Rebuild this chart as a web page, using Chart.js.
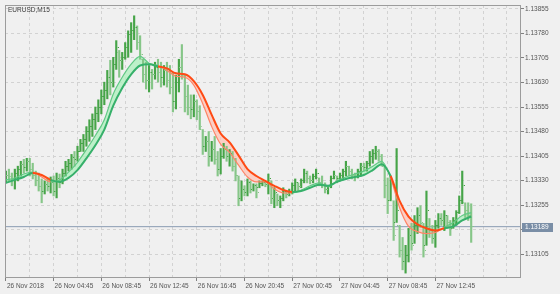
<!DOCTYPE html>
<html>
<head>
<meta charset="utf-8">
<script src="https://cdn.jsdelivr.net/npm/chart.js@4.4.1/dist/chart.umd.min.js"></script>
<style>
  html, body { margin: 0; padding: 0; background: #f0f0f0; }
  #wrap { width: 560px; height: 294px; }
</style>
</head>
<body>
<div id="wrap"><canvas id="chart" width="560" height="294"></canvas></div>
<script>
const symbolTitle = 'EURUSD,M15';

// OHLC, one entry per M15 bar
const opens = [1.13335,1.13347,1.13341,1.13329,1.13353,1.13365,1.13380,1.13371,1.13389,1.13365,1.13344,1.13329,1.13311,1.13298,1.13317,1.13311,1.13323,1.13298,1.13335,1.13323,
  1.13353,1.13374,1.13383,1.13401,1.13395,1.13419,1.13444,1.13456,1.13480,1.13495,1.13516,1.13534,1.13555,1.13586,1.13607,1.13646,1.13631,1.13686,1.13722,1.13698,
  1.13707,1.13737,1.13776,1.13788,1.13797,1.13752,1.13701,1.13655,1.13637,1.13661,1.13655,1.13676,1.13661,1.13646,1.13667,1.13637,1.13616,1.13571,1.13631,1.13676,
  1.13652,1.13586,1.13555,1.13546,1.13571,1.13540,1.13486,1.13435,1.13450,1.13404,1.13425,1.13395,1.13365,1.13404,1.13425,1.13404,1.13413,1.13374,1.13344,1.13274,
  1.13304,1.13292,1.13323,1.13304,1.13314,1.13308,1.13320,1.13323,1.13317,1.13329,1.13274,1.13289,1.13268,1.13274,1.13298,1.13286,1.13298,1.13314,1.13323,1.13311,
  1.13329,1.13353,1.13335,1.13329,1.13341,1.13338,1.13323,1.13317,1.13304,1.13311,1.13335,1.13344,1.13335,1.13344,1.13359,1.13374,1.13359,1.13347,1.13341,1.13359,
  1.13374,1.13371,1.13383,1.13404,1.13413,1.13419,1.13404,1.13374,1.13314,1.13268,1.13268,1.13202,1.13193,1.13117,1.13081,1.13102,1.13162,1.13138,1.13193,1.13223,
  1.13199,1.13132,1.13214,1.13177,1.13153,1.13193,1.13214,1.13208,1.13223,1.13202,1.13184,1.13208,1.13232,1.13268,1.13262,1.13238,1.13223];
const highs = [1.13359,1.13365,1.13353,1.13365,1.13374,1.13389,1.13395,1.13398,1.13398,1.13383,1.13359,1.13353,1.13335,1.13329,1.13338,1.13341,1.13344,1.13353,1.13350,1.13365,
  1.13389,1.13395,1.13410,1.13419,1.13435,1.13456,1.13471,1.13495,1.13516,1.13534,1.13555,1.13577,1.13607,1.13631,1.13667,1.13698,1.13707,1.13758,1.13728,1.13722,
  1.13752,1.13788,1.13813,1.13834,1.13803,1.13773,1.13701,1.13692,1.13682,1.13670,1.13692,1.13701,1.13692,1.13682,1.13692,1.13682,1.13661,1.13652,1.13701,1.13746,
  1.13652,1.13622,1.13592,1.13592,1.13577,1.13559,1.13486,1.13465,1.13480,1.13450,1.13465,1.13419,1.13428,1.13444,1.13435,1.13425,1.13419,1.13398,1.13344,1.13329,
  1.13314,1.13335,1.13329,1.13320,1.13320,1.13329,1.13329,1.13326,1.13350,1.13329,1.13308,1.13289,1.13283,1.13308,1.13298,1.13304,1.13323,1.13335,1.13323,1.13335,
  1.13365,1.13359,1.13344,1.13350,1.13365,1.13338,1.13344,1.13323,1.13314,1.13344,1.13359,1.13344,1.13353,1.13365,1.13389,1.13374,1.13365,1.13353,1.13365,1.13383,
  1.13383,1.13389,1.13419,1.13425,1.13435,1.13425,1.13410,1.13374,1.13338,1.13344,1.13268,1.13428,1.13193,1.13156,1.13132,1.13184,1.13199,1.13223,1.13247,1.13253,
  1.13199,1.13298,1.13214,1.13193,1.13208,1.13229,1.13229,1.13238,1.13223,1.13208,1.13217,1.13238,1.13283,1.13359,1.13262,1.13262,1.13259];
const lows = [1.13323,1.13329,1.13314,1.13304,1.13329,1.13344,1.13353,1.13359,1.13344,1.13335,1.13314,1.13298,1.13262,1.13289,1.13298,1.13292,1.13283,1.13277,1.13308,1.13320,
  1.13344,1.13359,1.13365,1.13374,1.13389,1.13419,1.13419,1.13435,1.13450,1.13465,1.13486,1.13510,1.13534,1.13562,1.13580,1.13592,1.13616,1.13670,1.13646,1.13670,
  1.13701,1.13707,1.13722,1.13761,1.13731,1.13701,1.13631,1.13610,1.13601,1.13610,1.13640,1.13631,1.13616,1.13622,1.13616,1.13595,1.13540,1.13549,1.13601,1.13640,
  1.13540,1.13531,1.13519,1.13525,1.13516,1.13486,1.13410,1.13419,1.13374,1.13389,1.13380,1.13344,1.13350,1.13398,1.13389,1.13374,1.13359,1.13329,1.13253,1.13268,
  1.13283,1.13283,1.13292,1.13298,1.13277,1.13308,1.13314,1.13311,1.13289,1.13259,1.13247,1.13253,1.13247,1.13268,1.13277,1.13283,1.13289,1.13298,1.13298,1.13308,
  1.13323,1.13323,1.13320,1.13323,1.13335,1.13314,1.13308,1.13292,1.13289,1.13308,1.13335,1.13323,1.13329,1.13335,1.13344,1.13344,1.13335,1.13329,1.13338,1.13344,
  1.13359,1.13359,1.13374,1.13383,1.13395,1.13389,1.13374,1.13277,1.13229,1.13268,1.13147,1.13202,1.13096,1.13057,1.13047,1.13081,1.13117,1.13138,1.13168,1.13187,
  1.13096,1.13132,1.13156,1.13138,1.13126,1.13184,1.13193,1.13177,1.13184,1.13162,1.13184,1.13193,1.13229,1.13259,1.13217,1.13208,1.13141];
const closes = [1.13347,1.13341,1.13329,1.13353,1.13365,1.13380,1.13371,1.13389,1.13365,1.13344,1.13329,1.13311,1.13298,1.13317,1.13311,1.13323,1.13298,1.13335,1.13323,1.13353,
  1.13374,1.13383,1.13401,1.13395,1.13419,1.13444,1.13456,1.13480,1.13495,1.13516,1.13534,1.13555,1.13586,1.13607,1.13646,1.13631,1.13686,1.13737,1.13698,1.13707,
  1.13737,1.13776,1.13788,1.13797,1.13752,1.13716,1.13655,1.13637,1.13661,1.13655,1.13676,1.13661,1.13646,1.13667,1.13637,1.13616,1.13571,1.13631,1.13676,1.13655,
  1.13586,1.13555,1.13546,1.13571,1.13540,1.13495,1.13435,1.13450,1.13404,1.13425,1.13395,1.13365,1.13404,1.13425,1.13404,1.13413,1.13374,1.13344,1.13274,1.13304,
  1.13292,1.13323,1.13304,1.13314,1.13292,1.13320,1.13323,1.13317,1.13335,1.13274,1.13292,1.13268,1.13274,1.13298,1.13286,1.13298,1.13314,1.13323,1.13311,1.13329,
  1.13353,1.13335,1.13329,1.13341,1.13353,1.13323,1.13317,1.13304,1.13311,1.13335,1.13347,1.13335,1.13344,1.13359,1.13374,1.13359,1.13347,1.13341,1.13359,1.13374,
  1.13371,1.13383,1.13404,1.13413,1.13419,1.13404,1.13383,1.13314,1.13268,1.13329,1.13162,1.13238,1.13117,1.13081,1.13102,1.13162,1.13132,1.13193,1.13223,1.13202,
  1.13117,1.13238,1.13177,1.13153,1.13193,1.13214,1.13208,1.13223,1.13202,1.13184,1.13208,1.13232,1.13268,1.13314,1.13238,1.13223,1.13189];

// two moving averages, read every 3 bars
const maIndex = [0,3,6,9,12,15,18,21,24,27,30,33,36,39,42,45,48,51,54,57,60,63,66,69,72,75,78,81,84,87,90,93,96,99,102,105,108,111,114,117,120,123,126,129,132,135,138,141,144,147,150,153,156];
const maSlow = [1.13323,1.13332,1.13341,1.13353,1.13347,1.13332,1.13326,1.13338,1.13362,1.13398,1.13438,1.13486,1.13559,1.13613,1.13655,1.13682,1.13686,1.13679,1.13673,1.13658,
  1.13655,1.13634,1.13592,1.13531,1.13474,1.13447,1.13407,1.13365,1.13344,1.13329,1.13314,1.13301,1.13295,1.13298,1.13308,1.13317,1.13314,1.13326,1.13335,1.13341,
  1.13347,1.13362,1.13380,1.13344,1.13268,1.13220,1.13196,1.13184,1.13177,1.13184,1.13190,1.13208,1.13220];
const maFast = [1.13332,1.13338,1.13350,1.13356,1.13341,1.13326,1.13332,1.13356,1.13386,1.13425,1.13468,1.13516,1.13595,1.13646,1.13686,1.13710,1.13689,1.13682,1.13667,1.13649,
  1.13646,1.13622,1.13565,1.13495,1.13441,1.13416,1.13377,1.13341,1.13326,1.13326,1.13304,1.13292,1.13292,1.13301,1.13314,1.13323,1.13311,1.13329,1.13341,1.13350,
  1.13359,1.13374,1.13389,1.13338,1.13247,1.13190,1.13174,1.13168,1.13171,1.13187,1.13202,1.13223,1.13232];

const yTicks = [1.13855,1.13780,1.13705,1.13630,1.13555,1.13480,1.13405,1.13330,1.13255,1.13180,1.13105];
const timeLabels = ['26 Nov 2018','26 Nov 04:45','26 Nov 08:45','26 Nov 12:45','26 Nov 16:45','26 Nov 20:45','27 Nov 00:45','27 Nov 04:45','27 Nov 08:45','27 Nov 12:45'];
const lastPrice = 1.13189;

const FONT = 'Liberation Sans';
const X_MIN = -0.3, X_MAX = 172.7;

function tickImage(color, left) {
  const c = document.createElement('canvas');
  c.width = 5; c.height = 1;
  const g = c.getContext('2d');
  g.fillStyle = color;
  g.fillRect(left ? 0 : 4, 0, 1, 1);
  return c;
}
const upColor = '#46a448', downColor = '#86c688';
const tickImgs = {
  upO: tickImage(upColor, true), upC: tickImage(upColor, false),
  dnO: tickImage(downColor, true), dnC: tickImage(downColor, false)
};
const isUp = i => closes[i] >= opens[i];

const segUp = ctx => (maFast[ctx.p0DataIndex] + maFast[ctx.p1DataIndex]) >= (maSlow[ctx.p0DataIndex] + maSlow[ctx.p1DataIndex]);

const bgPlugin = {
  id: 'bg',
  beforeDraw(chart) {
    const c = chart.ctx;
    c.save();
    c.fillStyle = '#f0f0f0';
    c.fillRect(0, 0, chart.width, chart.height);
    c.restore();
  },
  afterDraw(chart) {
    const c = chart.ctx, a = chart.chartArea;
    c.save();
    c.strokeStyle = '#9c9c9c';
    c.lineWidth = 1;
    c.strokeRect(a.left + 0.5, a.top + 0.5, a.right - a.left - 1, a.bottom - a.top - 1);
    // symbol name
    c.font = '6.5px "' + FONT + '"';
    c.fillStyle = '#3a3a3a';
    c.textBaseline = 'middle';
    c.fillText(symbolTitle, a.left + 3, a.top + 5);
    // price tag
    const y = Math.round(chart.scales.y.getPixelForValue(lastPrice));
    c.fillStyle = '#7a8ea6';
    c.fillRect(a.right + 1, y - 4, 31, 9);
    c.fillStyle = '#ffffff';
    c.fillText(lastPrice.toFixed(5), a.right + 4, y + 0.5);
    c.restore();
  }
};

new Chart(document.getElementById('chart'), {
  type: 'line',
  data: {
    datasets: [
      {
        label: 'slow',
        data: maIndex.map((x, k) => ({ x: x, y: maSlow[k] })),
        borderWidth: 2,
        pointRadius: 0,
        cubicInterpolationMode: 'monotone',
        segment: { borderColor: ctx => segUp(ctx) ? '#36b06a' : '#ff4a14' },
        borderColor: '#36b06a',
        order: 0
      },
      {
        label: 'fast',
        data: maIndex.map((x, k) => ({ x: x, y: maFast[k] })),
        borderWidth: 1.2,
        pointRadius: 0,
        cubicInterpolationMode: 'monotone',
        segment: { borderColor: ctx => segUp(ctx) ? '#62c985' : '#ff8466' },
        borderColor: '#62c985',
        fill: { target: 0, above: 'rgba(172,240,188,0.75)', below: 'rgba(255,192,178,0.7)' },
        order: 1
      },
      {
        type: 'bar',
        label: 'range',
        data: highs.map((h, i) => ({ x: i, y: [lows[i], h] })),
        backgroundColor: highs.map((h, i) => isUp(i) ? upColor : downColor),
        borderWidth: 0,
        barThickness: 1.5,
        grouped: false,
        order: 3
      },
      {
        label: 'open',
        data: opens.map((v, i) => ({ x: i, y: v })),
        showLine: false,
        pointRadius: 2,
        pointStyle: ctx => isUp(ctx.dataIndex) ? tickImgs.upO : tickImgs.dnO,
        order: 2
      },
      {
        label: 'close',
        data: closes.map((v, i) => ({ x: i, y: v })),
        showLine: false,
        pointRadius: 2,
        pointStyle: ctx => isUp(ctx.dataIndex) ? tickImgs.upC : tickImgs.dnC,
        order: 2
      },
      {
        label: 'bid',
        data: [{ x: X_MIN, y: lastPrice }, { x: X_MAX, y: lastPrice }],
        borderColor: '#8a9cb2',
        borderWidth: 1,
        pointRadius: 0,
        order: 4
      }
    ]
  },
  options: {
    responsive: false,
    animation: false,
    events: [],
    layout: { padding: { left: 2, top: 2, right: 0, bottom: 0 } },
    plugins: {
      legend: { display: false },
      tooltip: { enabled: false },
      filler: { drawTime: 'beforeDatasetsDraw' }
    },
    scales: {
      x: {
        type: 'linear',
        offset: false,
        min: X_MIN,
        max: X_MAX,
        afterBuildTicks: axis => {
          const t = [];
          for (let v = 0; v <= 168; v += 8) t.push({ value: v });
          axis.ticks = t;
        },
        afterFit: axis => { axis.height = 16; axis.paddingLeft = 0; axis.paddingRight = 0; },
        ticks: {
          autoSkip: false,
          maxRotation: 0,
          align: 'start',
          labelOffset: 1,
          padding: 1,
          color: '#555',
          font: { family: FONT, size: 6.5 },
          callback: v => (v % 16 === 0 && v / 16 < timeLabels.length) ? timeLabels[v / 16] : ''
        },
        grid: {
          offset: false,
          color: '#d2d2d2',
          tickLength: 3,
          tickColor: ctx => (ctx.tick && ctx.tick.value % 16 === 0 && ctx.tick.value / 16 < timeLabels.length) ? '#808080' : 'rgba(0,0,0,0)',
          tickBorderDash: []
        },
        border: { display: false, dash: [3, 3] }
      },
      y: {
        position: 'right',
        min: 1.13032,
        max: 1.13867,
        afterBuildTicks: axis => { axis.ticks = yTicks.map(v => ({ value: v })); },
        afterFit: axis => { axis.width = 39; },
        ticks: {
          padding: 1,
          color: '#555',
          font: { family: FONT, size: 6.5 },
          callback: v => v.toFixed(5)
        },
        grid: {
          color: '#d2d2d2',
          tickLength: 3,
          tickColor: '#808080',
          tickBorderDash: []
        },
        border: { display: false, dash: [3, 3] }
      }
    }
  },
  plugins: [bgPlugin]
});
</script>
</body>
</html>
